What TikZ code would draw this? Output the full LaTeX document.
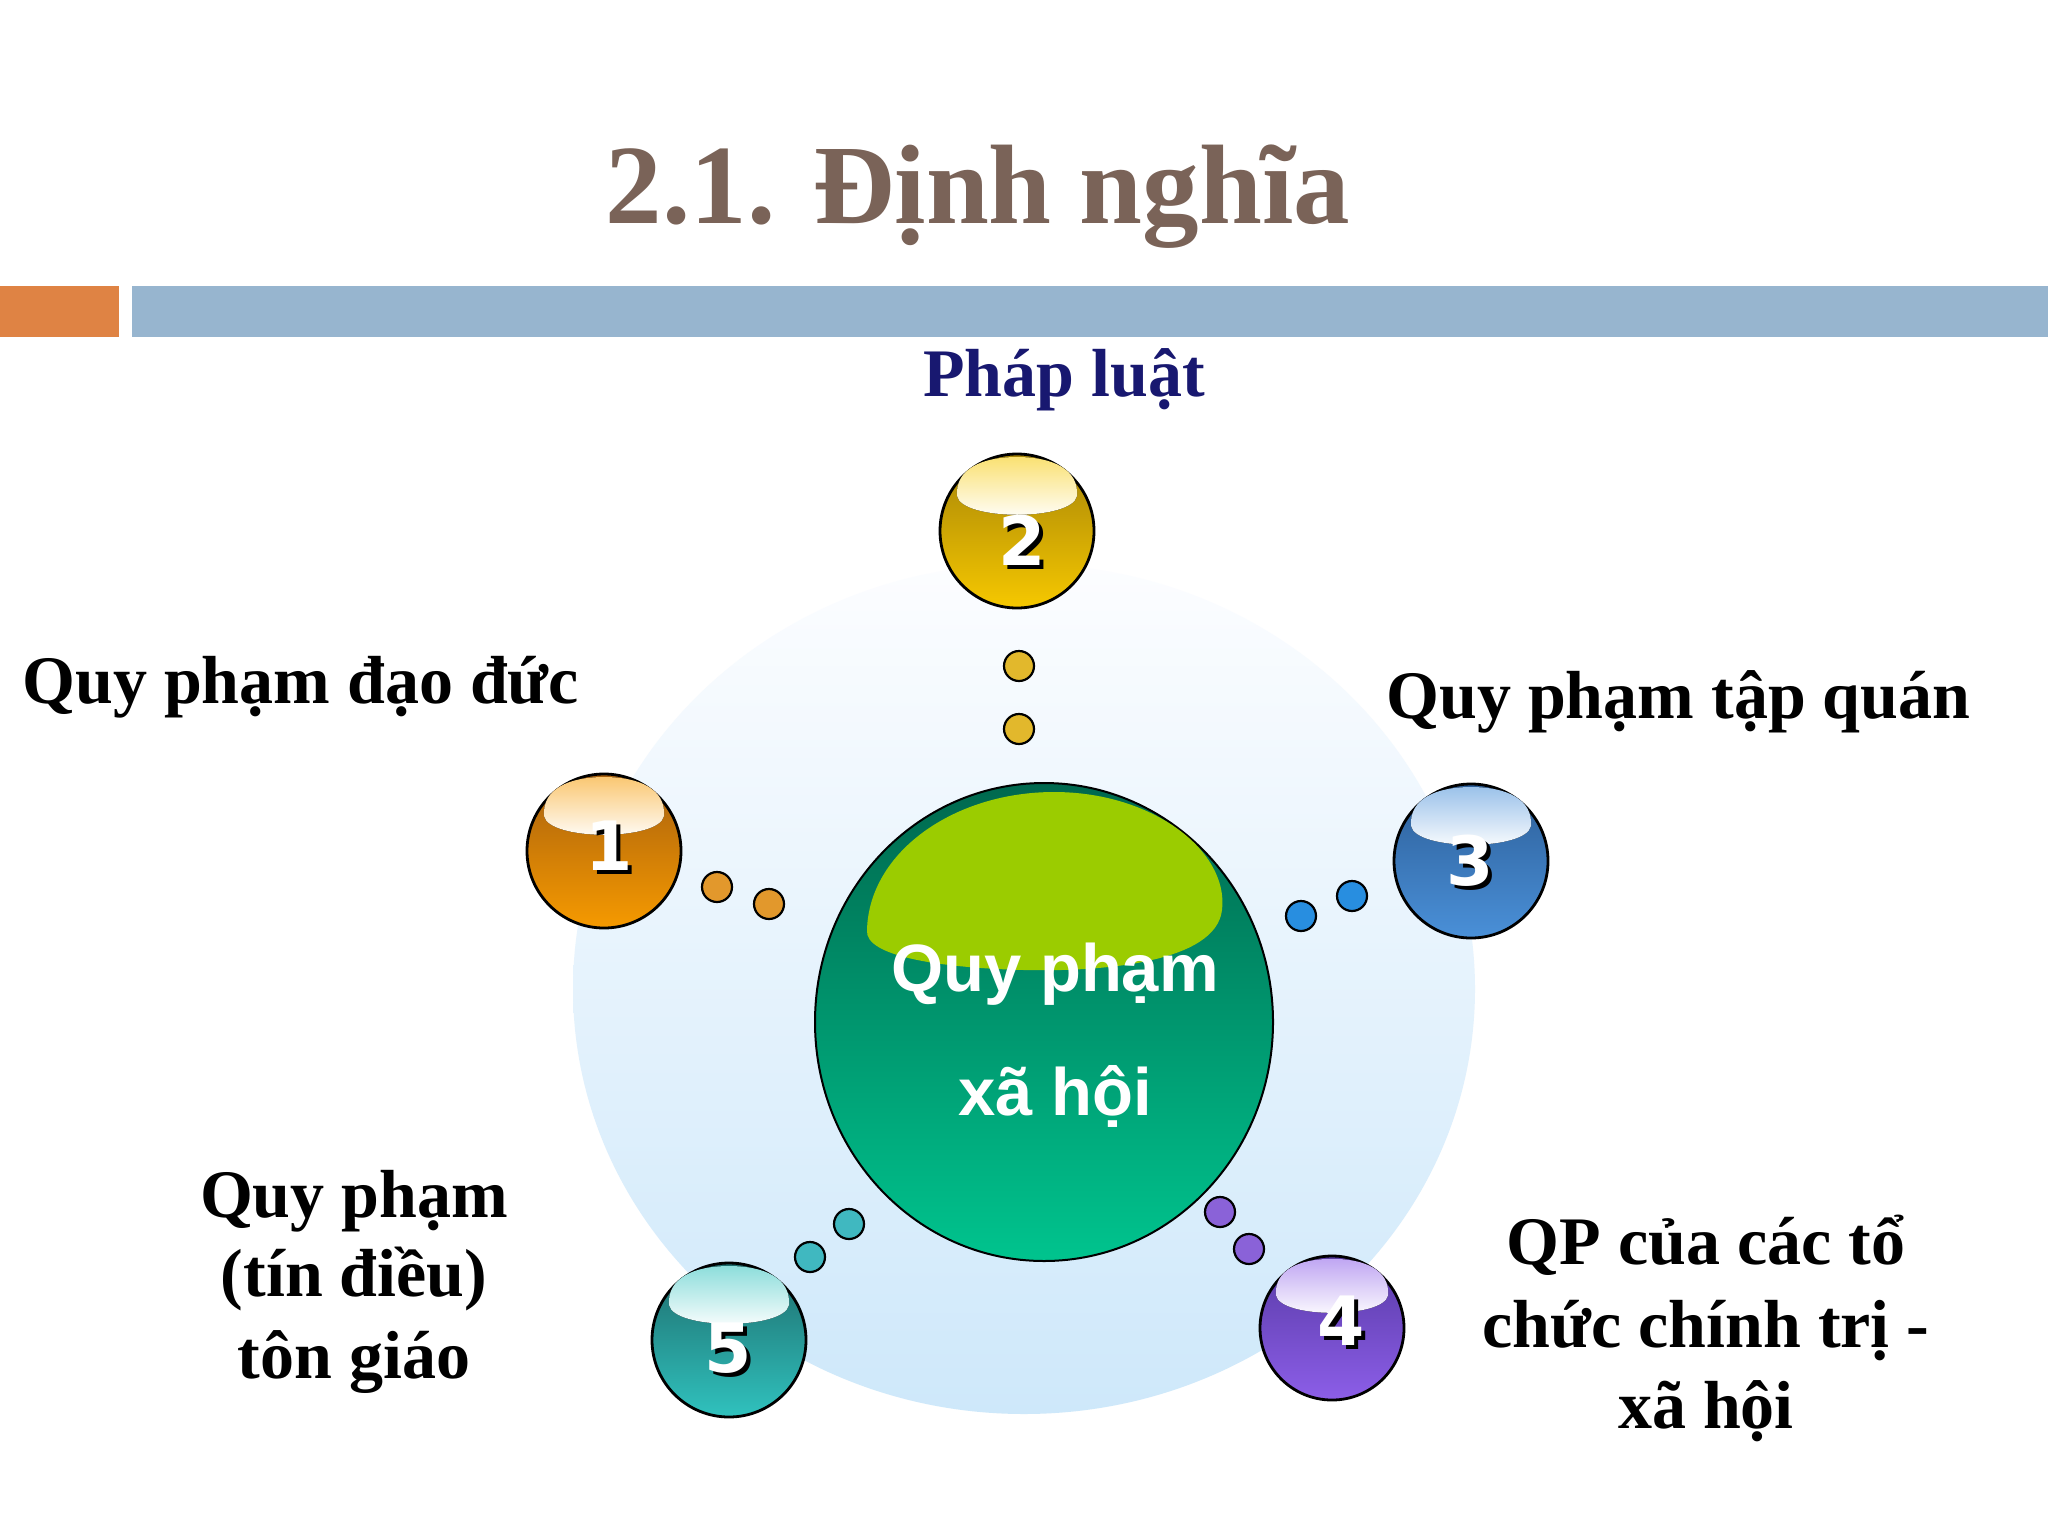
\documentclass[tikz,border=0pt]{standalone}
\usepackage{fontspec}
\setmainfont{Liberation Serif}
\newfontfamily\sansfont{Liberation Sans}
\newfontfamily\digitfont{DejaVu Sans}
\usetikzlibrary{calc,shapes.geometric}
\definecolor{titlebrown}{RGB}{122,99,88}
\definecolor{barorange}{RGB}{223,131,68}
\definecolor{barblue}{RGB}{151,181,207}
\definecolor{navy}{RGB}{24,24,112}
\definecolor{bgtop}{RGB}{252,253,255}
\definecolor{bgbot}{RGB}{206,232,250}
\definecolor{ctop}{RGB}{0,104,78}
\definecolor{cbot}{RGB}{0,196,142}
\definecolor{chl}{RGB}{155,204,0}
\definecolor{otop}{RGB}{168,96,14}
\definecolor{obot}{RGB}{246,154,0}
\definecolor{gtop}{RGB}{166,132,8}
\definecolor{gbot}{RGB}{246,200,0}
\definecolor{btop}{RGB}{44,94,152}
\definecolor{bbot}{RGB}{74,144,216}
\definecolor{ptop}{RGB}{88,58,166}
\definecolor{pbot}{RGB}{140,94,232}
\definecolor{ttop}{RGB}{30,108,108}
\definecolor{tbot}{RGB}{48,194,190}
\definecolor{dotorange}{RGB}{226,152,44}
\definecolor{dotgold}{RGB}{226,184,44}
\definecolor{dotblue}{RGB}{40,142,224}
\definecolor{dotpurple}{RGB}{138,98,216}
\definecolor{dotteal}{RGB}{64,184,192}
\tikzset{
  ballnode/.style={circle, draw=black, line width=1.4pt, minimum size=#1, inner sep=0pt},
  dotnode/.style={circle, draw=black, line width=1.1pt, minimum size=15pt, inner sep=0pt, fill=#1},
  digit/.style={font=\digitfont\bfseries\fontsize{34}{40}\selectfont, text=white, inner sep=0pt},
  digitshadow/.style={digit, text=black},
  label/.style={font=\bfseries\fontsize{34}{40}\selectfont, text=black, inner sep=0pt},
  centertext/.style={font=\sansfont\bfseries\fontsize{33.5}{40}\selectfont, text=white, inner sep=0pt},
}
\newcommand\ballhl[3]{%
  \begin{scope}[shift={(#1.center)}, scale=#3]
    \fill[top color=#2!55!white, bottom color=white]
      (-60,-35) .. controls (-62,-62) and (-35,-74) .. (0,-74)
      .. controls (35,-74) and (62,-62) .. (60,-35)
      .. controls (55,-10) and (-55,-10) .. (-60,-35) -- cycle;
  \end{scope}}
\begin{document}
\begin{tikzpicture}[x=0.5pt,y=-0.5pt]
\useasboundingbox (0,0) rectangle (2048,1536);
\fill[white] (0,0) rectangle (2048,1536);
% bars
\fill[barorange] (0,286) rectangle (119,337);
\fill[barblue] (132,286) rectangle (2048,337);
% title
\node[font=\bfseries\fontsize{56.5}{64}\selectfont, text=titlebrown, inner sep=0pt, anchor=base] (title) at (978,223) {2.1. Định nghĩa};
% background disc
\shade[top color=bgtop, bottom color=bgbot] (1024,989) ellipse [x radius=451, y radius=425];
% central circle
\node[ellipse, minimum width=229pt, minimum height=239pt, inner sep=0pt, draw=black, line width=1pt, top color=ctop, bottom color=cbot] (c) at (1044,1022) {};
\begin{scope}[shift={(c.center)}]
\fill[chl] (-177,-92) .. controls (-175,-170) and (-90,-230) .. (10,-230)
  .. controls (110,-230) and (185,-170) .. (178,-112)
  .. controls (172,-60) and (60,-50) .. (-20,-52)
  .. controls (-100,-54) and (-180,-65) .. (-177,-92) -- cycle;
\end{scope}
\node[centertext, anchor=base] (ct1) at (1055,991) {Quy phạm};
\node[centertext, anchor=base] (ct2) at (1055,1115) {xã hội};
% dots
\node[dotnode=dotgold] (d2a) at (1019,666) {};
\node[dotnode=dotgold] (d2b) at (1019,729) {};
\node[dotnode=dotorange] (d1a) at (717,887) {};
\node[dotnode=dotorange] (d1b) at (769,904) {};
\node[dotnode=dotblue] (d3a) at (1352,896) {};
\node[dotnode=dotblue] (d3b) at (1301,916) {};
\node[dotnode=dotpurple] (d4a) at (1220,1212) {};
\node[dotnode=dotpurple] (d4b) at (1249,1249) {};
\node[dotnode=dotteal] (d5a) at (849,1224) {};
\node[dotnode=dotteal] (d5b) at (810,1257) {};
% balls
\node[ballnode=77pt, top color=otop, bottom color=obot] (b1) at (604,851) {};
\ballhl{b1}{obot}{1}
\node[ballnode=77pt, top color=gtop, bottom color=gbot] (b2) at (1017,531) {};
\ballhl{b2}{gbot}{1}
\node[ballnode=77pt, top color=btop, bottom color=bbot] (b3) at (1471,861) {};
\ballhl{b3}{bbot}{1}
\node[ballnode=72pt, top color=ptop, bottom color=pbot] (b4) at (1332,1328) {};
\ballhl{b4}{pbot}{0.935}
\node[ballnode=77pt, top color=ttop, bottom color=tbot] (b5) at (729,1340) {};
\ballhl{b5}{tbot}{1}
% digits
\node[digitshadow] (n1s) at (613,850) {1};
\node[digit] (n1) at (609,846) {1};
\node[digitshadow] (n2s) at (1026,544) {2};
\node[digit] (n2) at (1022,540) {2};
\node[digitshadow] (n3s) at (1474,865) {3};
\node[digit] (n3) at (1470,861) {3};
\node[digitshadow] (n4s) at (1345,1325) {4};
\node[digit] (n4) at (1341,1321) {4};
\node[digitshadow] (n5s) at (732,1352) {5};
\node[digit] (n5) at (728,1348) {5};
% labels
\node[label, text=navy, anchor=base] (l2) at (1064,396) {Pháp luật};
\node[label, anchor=base west] (l1) at (22,703) {Quy phạm đạo đức};
\node[label, anchor=base west] (l3) at (1386,718) {Quy phạm tập quán};
\node[label, anchor=base] (l5a) at (354,1217) {Quy phạm};
\node[label, anchor=base] (l5b) at (354,1296) {(tín điều)};
\node[label, anchor=base] (l5c) at (354,1378) {tôn giáo};
\node[label, anchor=base] (l4a) at (1706,1264) {QP của các tổ};
\node[label, anchor=base] (l4b) at (1706,1347) {chức chính trị -};
\node[label, anchor=base] (l4c) at (1706,1428) {xã hội};
\end{tikzpicture}
\end{document}
